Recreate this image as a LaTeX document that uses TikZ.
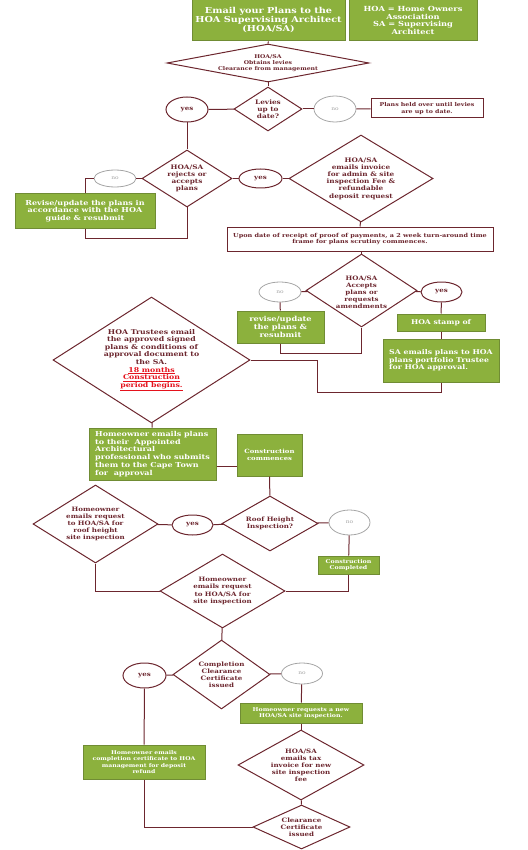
\documentclass[tikz,border=0pt]{standalone}
\usepackage{fontspec}
\setmainfont{DejaVu Serif}[FakeStretch=1.18]
\usetikzlibrary{shapes.geometric}
\definecolor{hred}{RGB}{108,38,46}
\definecolor{hgreen}{RGB}{140,177,61}
\definecolor{hgreendark}{RGB}{112,140,52}
\definecolor{alert}{RGB}{228,18,28}
\definecolor{nogray}{RGB}{165,165,165}
\tikzset{
  fs/.style 2 args={font=\fontsize{#1}{#2}\selectfont\bfseries},
  gbox/.style 2 args={rectangle,fill=hgreen,draw=hgreendark,line width=1pt,text=white,
    align=center,inner sep=0pt,minimum width=#1,minimum height=#2},
  wbox/.style 2 args={rectangle,fill=white,draw=hred,line width=1pt,text=hred,
    align=center,inner sep=0pt,minimum width=#1,minimum height=#2},
  dia/.style 2 args={diamond,draw=hred,line width=1pt,inner sep=0pt,
    minimum width=#1,minimum height=#2},
  dtext/.style={text=hred,align=center,inner sep=0pt},
  yesell/.style 2 args={ellipse,draw=hred,line width=1pt,inner sep=0pt,text=hred,
    fs={6}{7},minimum width=#1,minimum height=#2},
  noell/.style 2 args={ellipse,draw=nogray,line width=0.8pt,inner sep=0pt,text=nogray,
    font=\fontsize{5}{6}\selectfont,minimum width=#1,minimum height=#2},
  conn/.style={draw=hred,line width=1pt}
}
\begin{document}
\begin{tikzpicture}[x=1pt,y=-1pt]
\useasboundingbox (0,0) rectangle (527,850);
% top row
\node[gbox={153pt}{41pt},fs={8.2}{9}] (start) at (268.5,20.5) {Email your Plans to the\\HOA Supervising Architect\\(HOA/SA)};
\node[gbox={128pt}{41pt},fs={7}{7.7}] (legend) at (413,20.5) {HOA = Home Owners\\Association\\SA = Supervising\\Architect};
\node[dia={202pt}{38pt},label={[dtext,fs={5.2}{6.3}]center:{HOA/SA\\Obtains levies\\Clearance from management}}] (levy) at (268,63) {};
\node[dia={68pt}{44pt},label={[dtext,fs={6.2}{7.3}]center:{Levies\\up to\\date?}}] (uptodate) at (268,109) {};
\node[yesell={42pt}{25pt}] (yesA) at (187,109.5) {yes};
\node[noell={42pt}{26pt}] (noA) at (335,109) {no};
\node[wbox={112pt}{19pt},fs={5.3}{6.3}] (held) at (427,108.5) {Plans held over until levies\\are up to date.};
% first check
\node[dia={90pt}{57pt},label={[dtext,fs={6.2}{7.2}]center:{HOA/SA\\rejects or\\accepts\\plans}}] (rejects) at (187,178.5) {};
\node[noell={42pt}{17pt}] (noB) at (115,178.5) {no};
\node[gbox={140pt}{34pt},fs={6.8}{7.8}] (reviseA) at (85,211) {Revise/update the plans in\\accordance with the HOA\\guide \& resubmit};
\node[yesell={43pt}{19pt}] (yesB) at (260.5,178.5) {yes};
\node[dia={144pt}{87pt},label={[dtext,fs={6.2}{7.2}]center:{HOA/SA\\emails invoice\\for admin \& site\\inspection Fee \&\\refundable\\deposit request}}] (invoice) at (361,178.5) {};
\node[wbox={266pt}{24pt},fs={5.5}{6.7}] (upon) at (360,239) {Upon date of receipt of proof of payments, a 2 week turn-around time\\frame for plans scrutiny commences.};
% second check
\node[dia={111pt}{73pt},label={[dtext,fs={6}{7},yshift=-2pt]center:{HOA/SA\\Accepts\\plans or\\requests\\amendments}}] (accepts) at (361.5,290.5) {};
\node[noell={42pt}{20pt}] (noC) at (280,292) {no};
\node[yesell={41pt}{20pt}] (yesC) at (441.5,292) {yes};
\node[gbox={87pt}{32pt},fs={7}{8}] (reviseB) at (280.5,327) {revise/update\\the plans \&\\resubmit};
\node[gbox={88pt}{17pt},fs={6.5}{7.5}] (stamp) at (441,322.5) {HOA stamp of};
\node[gbox={116pt}{43pt},fs={6.6}{7.5},align=left] (portfolio) at (441,360.5) {SA emails plans to HOA\\plans portfolio Trustee\\for HOA approval.};
\node[dia={197pt}{126pt},label={[dtext,fs={6.6}{7.6}]center:{HOA Trustees email\\the approved signed\\plans \& conditions of\\approval document to\\the SA.\\\textcolor{alert}{\underline{18 months}}\\\textcolor{alert}{\underline{Construction}}\\\textcolor{alert}{\underline{period begins.}}}}] (trustees) at (151.5,360) {};
% construction
\node[gbox={127pt}{52pt},fs={6.8}{7.8},align=left] (architect) at (152.5,454) {Homeowner emails plans\\to their\ \ Appointed\\Architectural\\professional who submits\\them to the Cape Town\\for\ \ approval};
\node[gbox={65pt}{42pt},fs={5.8}{7}] (commence) at (269.5,455) {Construction\\commences};
\node[dia={96pt}{55pt},label={[dtext,fs={6}{7.5}]center:{Roof Height\\Inspection?}}] (roof) at (270,523.5) {};
\node[dia={125pt}{78pt},label={[dtext,fs={6}{7}]center:{Homeowner\\emails request\\to HOA/SA for\\roof height\\site inspection}}] (roofreq) at (95.5,524) {};
\node[yesell={41pt}{20pt}] (yesD) at (192.5,525) {yes};
\node[noell={41pt}{25pt}] (noD) at (349.5,522.5) {no};
\node[gbox={61pt}{18pt},fs={5.3}{6.3}] (completed) at (348.5,565) {Construction\\Completed};
\node[dia={125pt}{74pt},label={[dtext,fs={6}{7.4}]center:{Homeowner\\emails request\\to HOA/SA for\\site inspection}}] (sitereq) at (222.5,591) {};
% completion
\node[dia={97pt}{69pt},label={[dtext,fs={6}{7}]center:{Completion\\Clearance\\Certificate\\issued}}] (completion) at (221.5,674.5) {};
\node[yesell={43pt}{25pt}] (yesE) at (144.5,675.5) {yes};
\node[noell={41pt}{21pt}] (noE) at (302,673.5) {no};
\node[gbox={122pt}{20pt},fs={5.3}{6.5}] (newreq) at (301,713) {Homeowner requests a new\\HOA/SA site inspection.};
\node[gbox={122pt}{34pt},fs={5.2}{6.3}] (refund) at (144,762) {Homeowner emails\\completion certificate to HOA\\management for deposit\\refund};
\node[dia={126pt}{70pt},label={[dtext,fs={6}{7}]center:{HOA/SA\\emails tax\\invoice for new\\site inspection\\fee}}] (taxinv) at (301,765) {};
\node[dia={97pt}{44pt},label={[dtext,fs={6}{7}]center:{Clearance\\Certificate\\issued}}] (clearance) at (301.5,827) {};
% connectors
\draw[conn] (start) -- (levy);
\draw[conn] (levy) -- (uptodate);
\draw[conn] (yesA) -- (uptodate);
\draw[conn] (uptodate) -- (noA);
\draw[conn] (noA) -- (held);
\draw[conn] (yesA) -- (rejects);
\draw[conn] (rejects) -- (noB);
\draw[conn] (noB.west) -| (reviseA.north);
\draw[conn] (reviseA.south) -- ++(0,10) -| (rejects.south);
\draw[conn] (rejects) -- (yesB);
\draw[conn] (yesB) -- (invoice);
\draw[conn] (invoice) -- (upon);
\draw[conn] (upon.south -| accepts.north) -- (accepts.north);
\draw[conn] (accepts) -- (noC);
\draw[conn] (accepts) -- (yesC);
\draw[conn] (noC) -- (reviseB);
\draw[conn] (reviseB.south) -- ++(0,10) -| (accepts.south);
\draw[conn] (yesC) -- (stamp);
\draw[conn] (stamp) -- (portfolio);
\draw[conn] (portfolio.south) -- ++(0,10) -| ([xshift=67pt]trustees.east) -- (trustees.east);
\draw[conn] (trustees) -- (architect);
\draw[conn] ([yshift=-12pt]architect.east) -- ([yshift=-12pt]architect.east -| commence.west);
\draw[conn] (commence) -- (roof);
\draw[conn] (roofreq) -- (yesD);
\draw[conn] (yesD) -- (roof);
\draw[conn] (roof) -- (noD);
\draw[conn] (noD) -- (completed);
\draw[conn] (completed.south) |- (sitereq.east);
\draw[conn] (roofreq.south) |- (sitereq.west);
\draw[conn] (sitereq) -- (completion);
\draw[conn] (completion) -- (yesE);
\draw[conn] (completion) -- (noE);
\draw[conn] (noE) -- (newreq);
\draw[conn] (newreq) -- (taxinv);
\draw[conn] (yesE) -- (refund);
\draw[conn] (refund.south) |- (clearance.west);
\draw[conn] (taxinv) -- (clearance);
\end{tikzpicture}
\end{document}
